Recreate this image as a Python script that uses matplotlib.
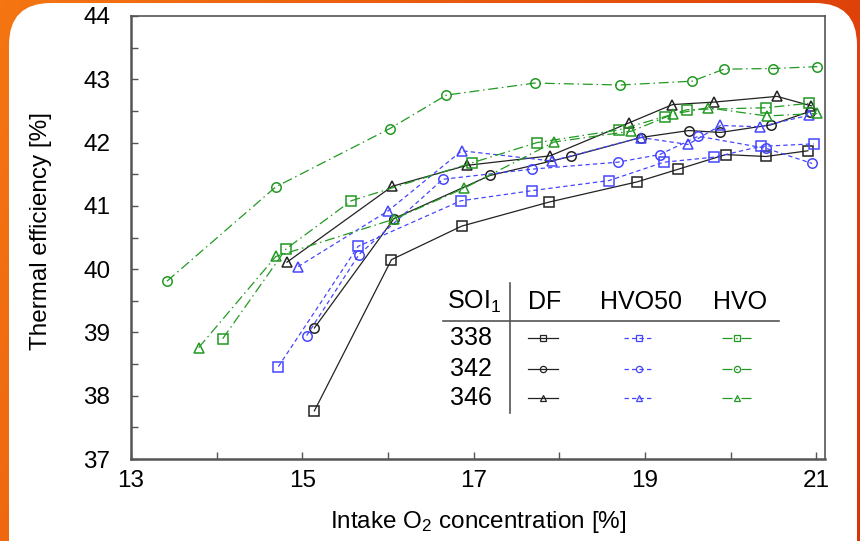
import numpy as np
import matplotlib
matplotlib.use("Agg")
import matplotlib.pyplot as plt
from matplotlib.patches import FancyBboxPatch
from matplotlib.lines import Line2D
from matplotlib.ticker import FixedLocator, MultipleLocator

plt.rcParams['font.family'] = ['Liberation Sans', 'DejaVu Sans']
plt.rcParams['mathtext.default'] = 'regular'

# ---- data ----
soi = ['338', '342', '346']
fuels = ['DF', 'HVO50', 'HVO']
x_ticks = [13, 15, 17, 19, 21]

df_338_x = [15.14, 16.04, 16.86, 17.88, 18.91, 19.39, 19.94, 20.41, 20.90]
df_338_y = [37.76, 40.15, 40.68, 41.06, 41.38, 41.58, 41.81, 41.78, 41.87]
df_342_x = [15.14, 16.07, 17.19, 18.13, 18.95, 19.51, 19.88, 20.47, 20.92]
df_342_y = [39.07, 40.80, 41.48, 41.78, 42.08, 42.19, 42.16, 42.28, 42.49]
df_346_x = [14.82, 16.05, 16.92, 17.89, 18.81, 19.32, 19.81, 20.54, 20.94]
df_346_y = [40.11, 41.31, 41.64, 41.79, 42.31, 42.60, 42.64, 42.73, 42.58]

hvo50_338_x = [14.72, 15.65, 16.85, 17.68, 18.58, 19.22, 19.81, 20.35, 20.97]
hvo50_338_y = [38.46, 40.36, 41.08, 41.24, 41.40, 41.69, 41.77, 41.94, 41.98]
hvo50_342_x = [15.05, 15.66, 16.64, 17.68, 18.68, 19.17, 19.62, 20.41, 20.95]
hvo50_342_y = [38.95, 40.23, 41.42, 41.58, 41.69, 41.81, 42.10, 41.91, 41.67]
hvo50_346_x = [14.95, 16.00, 16.86, 17.91, 18.95, 19.50, 19.88, 20.34, 20.91]
hvo50_346_y = [40.04, 40.92, 41.87, 41.71, 42.08, 41.97, 42.27, 42.25, 42.43]

hvo_338_x = [14.07, 14.81, 15.57, 16.98, 17.74, 18.69, 19.23, 19.49, 20.41, 20.91]
hvo_338_y = [38.90, 40.32, 41.08, 41.68, 42.00, 42.20, 42.41, 42.52, 42.55, 42.62]
hvo_342_x = [13.42, 14.69, 16.02, 16.68, 17.71, 18.71, 19.55, 19.92, 20.49, 21.01]
hvo_342_y = [39.81, 41.30, 42.22, 42.75, 42.94, 42.91, 42.97, 43.16, 43.17, 43.20]
hvo_346_x = [13.79, 14.69, 16.07, 16.89, 17.94, 18.84, 19.33, 19.73, 20.42, 21.01]
hvo_346_y = [38.76, 40.20, 40.79, 41.28, 42.01, 42.18, 42.45, 42.55, 42.42, 42.46]

W, H = 860, 541
fig = plt.figure(figsize=(W / 100, H / 100), dpi=100)

# ---- orange background with white rounded card ----
bg = fig.add_axes([0, 0, 1, 1])
xx = np.linspace(0, 1, W)[None, :]
yy = np.linspace(0, 1, H)[:, None]
c_left = np.array([0.96, 0.46, 0.07])
c_right = np.array([0.85, 0.21, 0.03])
t = np.clip(0.8 * xx + 0.2 * yy, 0, 1)
img = c_left[None, None, :] * (1 - t[..., None]) + c_right[None, None, :] * t[..., None]
bg.imshow(img, extent=[0, W, H, 0], aspect='auto')
bg.add_patch(FancyBboxPatch((9, 3), 848, 600, boxstyle="round,pad=0,rounding_size=42",
                            fc='white', ec='none'))
bg.set_xlim(0, W)
bg.set_ylim(H, 0)
bg.axis('off')

# ---- main axes ----
ax = fig.add_axes([131 / W, 1 - 459 / H, (825 - 131) / W, (459 - 16) / H])
ax.set_facecolor('white')

black = '#222222'
blue = '#4646ff'
green = '#229922'
ls_blue = (0, (3.5, 2.5))
ls_green = (0, (8, 3, 1.2, 3))
ms = 6.8
mew = 1.1
lw = 0.9

series = [
    (df_338_x, df_338_y, black, '-', 's'),
    (df_342_x, df_342_y, black, '-', 'o'),
    (df_346_x, df_346_y, black, '-', '^'),
    (hvo50_338_x, hvo50_338_y, blue, ls_blue, 's'),
    (hvo50_342_x, hvo50_342_y, blue, ls_blue, 'o'),
    (hvo50_346_x, hvo50_346_y, blue, ls_blue, '^'),
    (hvo_338_x, hvo_338_y, green, ls_green, 's'),
    (hvo_342_x, hvo_342_y, green, ls_green, 'o'),
    (hvo_346_x, hvo_346_y, green, ls_green, '^'),
]
for x, y, c, ls, m in series:
    ax.plot(x, y, color=c, ls=ls, lw=lw, marker=m, ms=ms, mfc='none', mec=c, mew=mew)

ax.set_xlim(13, 21.1)
ax.set_ylim(37, 44)
ax.xaxis.set_major_locator(FixedLocator(x_ticks))
ax.xaxis.set_minor_locator(FixedLocator([v + 1 for v in x_ticks[:-1]]))
ax.yaxis.set_major_locator(MultipleLocator(1))
ax.yaxis.set_minor_locator(MultipleLocator(0.5))
ax.tick_params(which='both', direction='in', length=5, width=1, color='#555555',
               top=False, right=False)
ax.tick_params(axis='x', labelsize=17.5, pad=8)
ax.tick_params(axis='y', labelsize=17.5, pad=15)
for s in ax.spines.values():
    s.set_color('#555555')
    s.set_linewidth(1.2)
ax.spines['left'].set_linewidth(1.8)
ax.spines['bottom'].set_linewidth(1.8)

ax.set_xlabel('Intake O$_2$ concentration [%]', fontsize=17.5, va='center')
ax.set_ylabel('Thermal efficiency [%]', fontsize=17.5, va='center')
ax.xaxis.set_label_coords(0.5, -(522 - 459) / 443)
ax.yaxis.set_label_coords(-(131 - 41) / 694, (459 - 231) / 443)

# ---- table-style legend (figure pixel positions) ----
def fx(px):
    return px / W

def fy(py):
    return 1 - py / H

fs = 18
fig.text(fx(447), fy(302), 'SOI$_1$', fontsize=fs, ha='left', va='center')
col_x = [545, 641, 740]
for name, cx in zip(fuels, col_x):
    fig.text(fx(cx), fy(302), name, fontsize=fs, ha='center', va='center')
fig.add_artist(Line2D([fx(510), fx(510)], [fy(283), fy(413)], color='#555555', lw=1.2))
fig.add_artist(Line2D([fx(443), fx(779)], [fy(321), fy(321)], color='#555555', lw=1.2))

row_y = [338, 369, 398]
markers = ['s', 'o', '^']
styles = [(black, '-'), (blue, ls_blue), (green, ls_green)]
for lab, ry, m in zip(soi, row_y, markers):
    fig.text(fx(471), fy(ry), lab, fontsize=fs, ha='center', va='center')
    for (c, ls), cx in zip(styles, [543, 639, 737]):
        fig.add_artist(Line2D([fx(cx - 15), fx(cx), fx(cx + 15)], [fy(ry)] * 3,
                              color=c, ls=ls, lw=lw, marker=m, ms=4.5, mfc='none',
                              mec=c, mew=0.9, markevery=[1]))

fig.savefig('out.png', dpi=100)
